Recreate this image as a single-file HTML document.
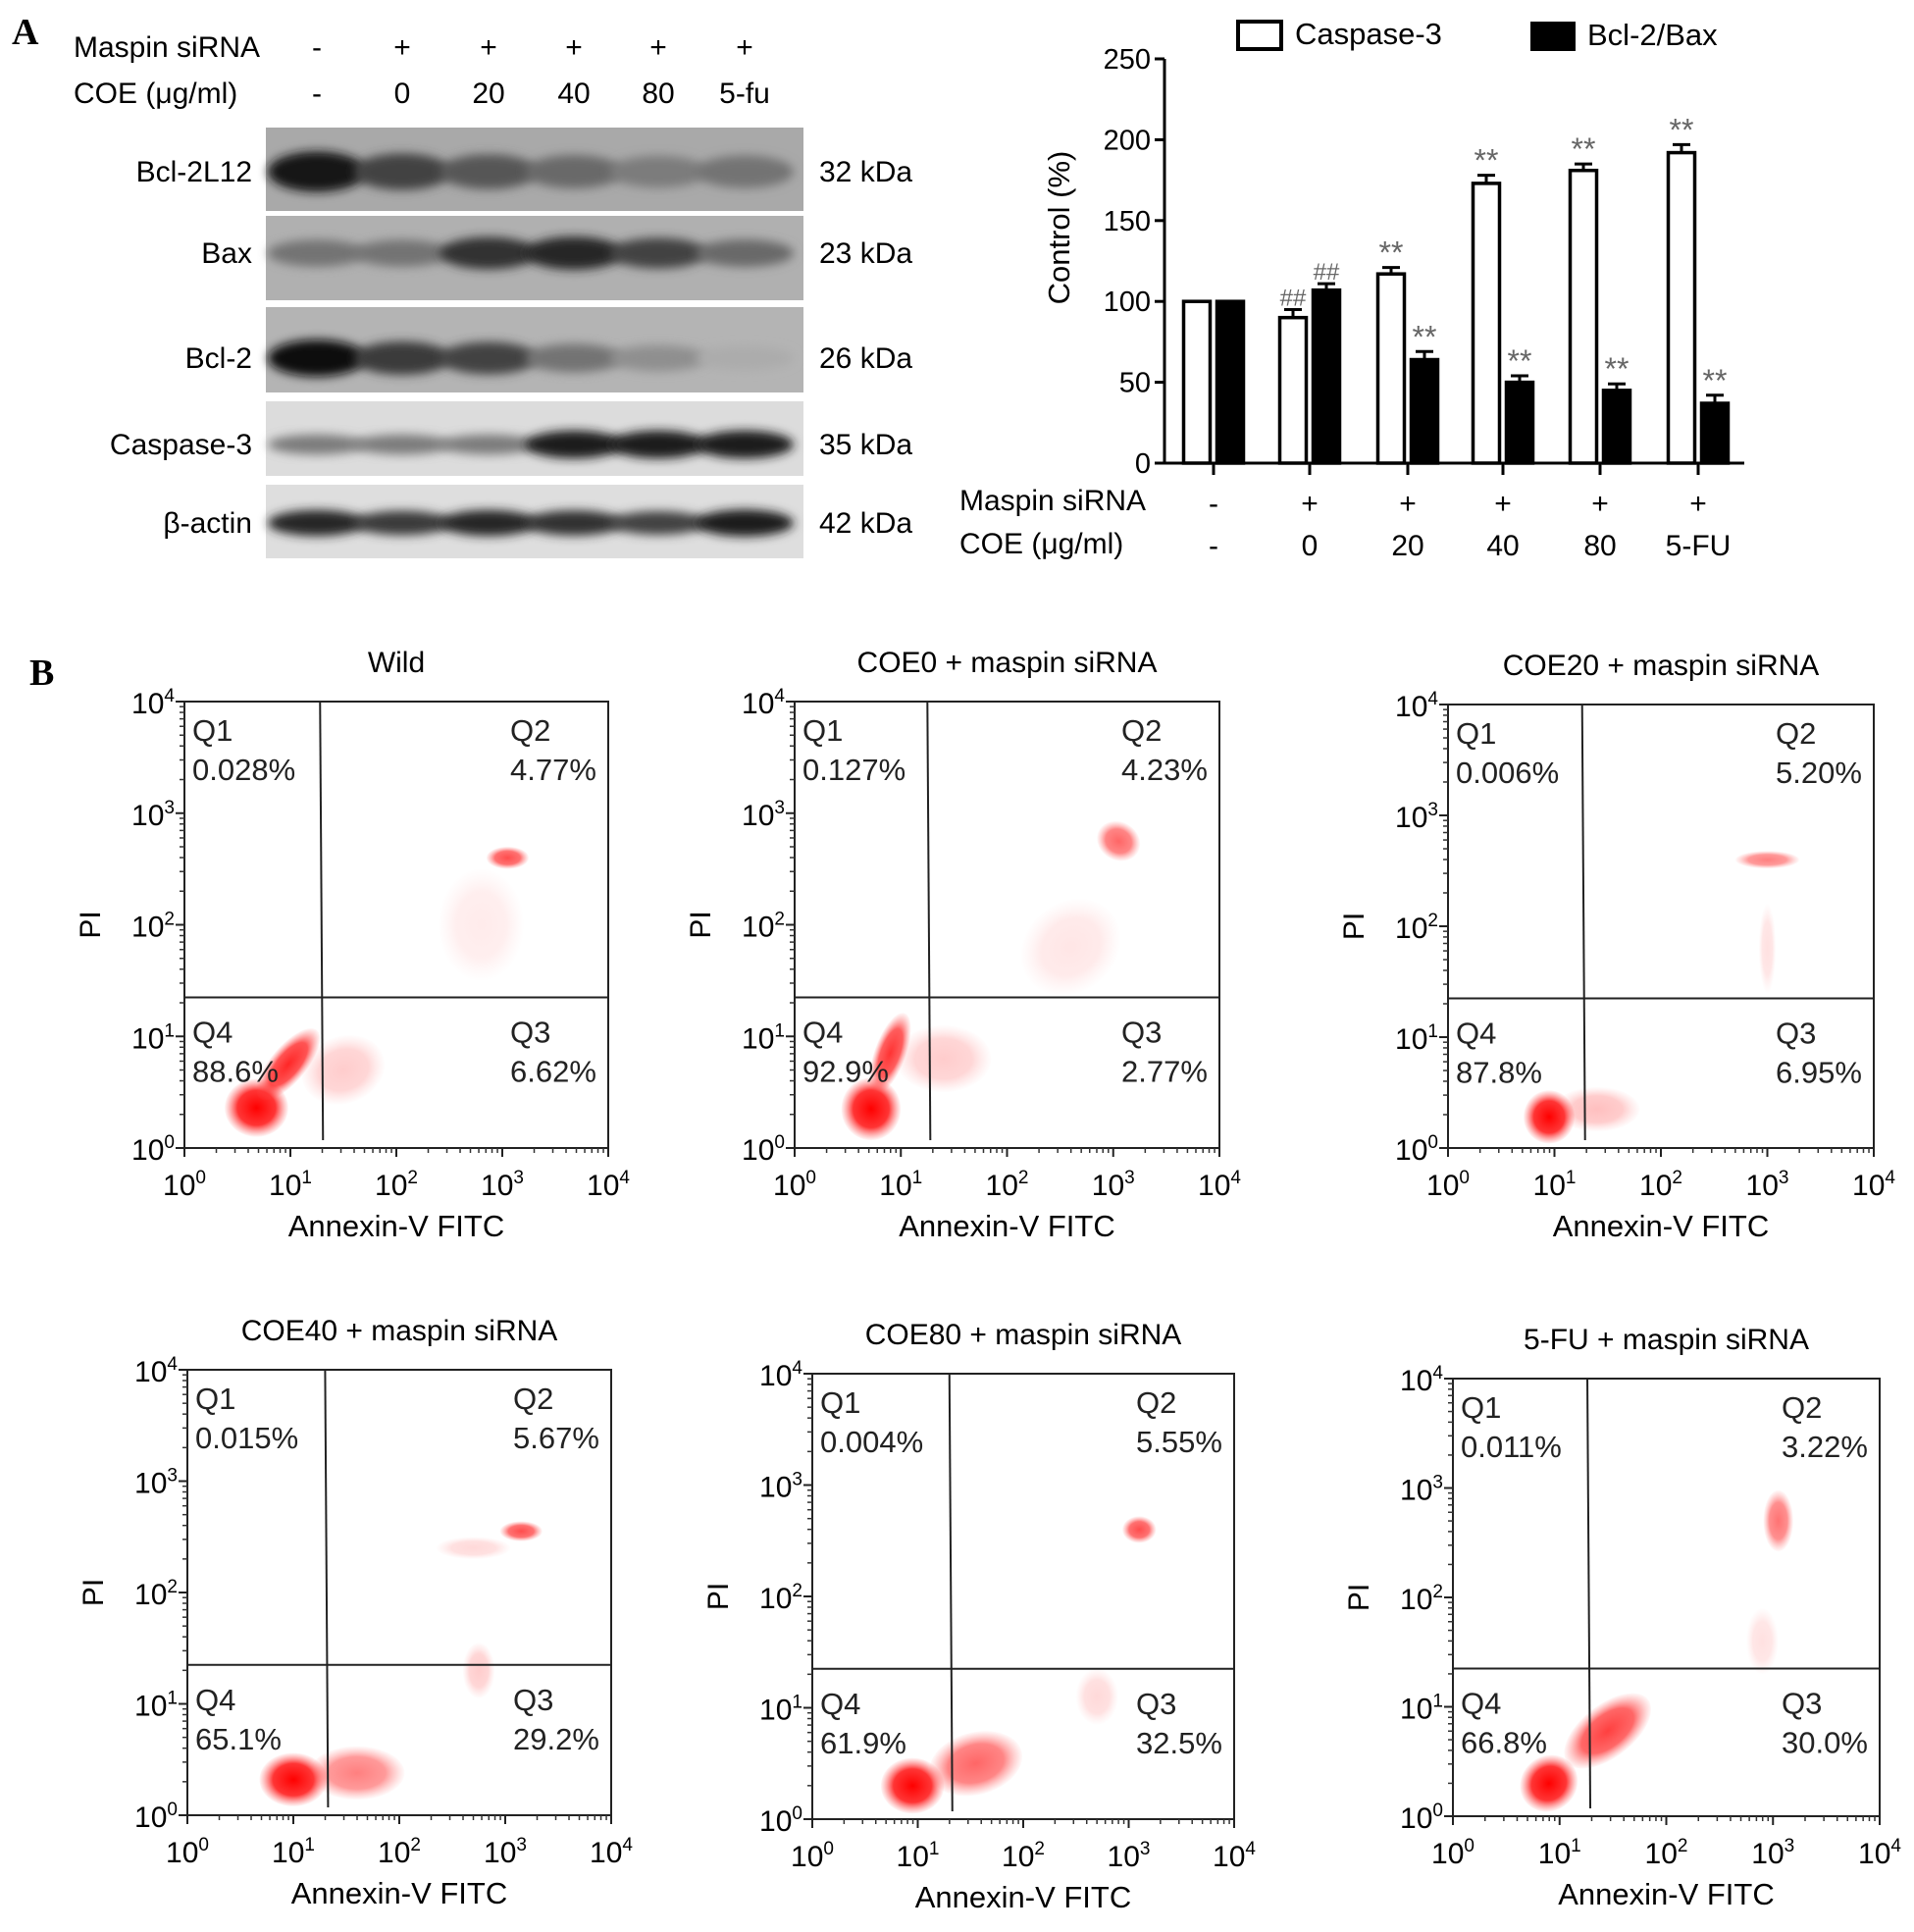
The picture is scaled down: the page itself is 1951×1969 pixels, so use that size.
<!DOCTYPE html>
<html><head><meta charset="utf-8"><style>
html,body{margin:0;padding:0;background:#fff;}
svg{display:block;font-family:"Liberation Sans",Arial,sans-serif;}
</style></head><body>
<svg id="fig" width="1951" height="1969" viewBox="0 0 1951 1969" xmlns="http://www.w3.org/2000/svg">
<defs>
<filter id="blur4" x="-50%" y="-50%" width="200%" height="200%"><feGaussianBlur stdDeviation="5"/></filter>
<radialGradient id="redblob"><stop offset="0" stop-color="#f00" stop-opacity="1"/><stop offset="0.6" stop-color="#f11" stop-opacity="0.85"/><stop offset="1" stop-color="#f55" stop-opacity="0.05"/></radialGradient>
</defs>
<g id="panelA"></g>
<g id="bars"></g>
<g id="flow"></g>
</svg>
<script>
const NS="http://www.w3.org/2000/svg";
function el(tag,attrs,parent,text){const e=document.createElementNS(NS,tag);for(const k in attrs)e.setAttribute(k,attrs[k]);if(text!==undefined)e.textContent=text;parent.appendChild(e);return e;}

// ---------- Western blot data ----------
const laneSiRNA=["-","+","+","+","+","+"];
const laneCOE=["-","0","20","40","80","5-fu"];
const proteins=["Bcl-2L12","Bax","Bcl-2","Caspase-3","β-actin"];
const kda=["32 kDa","23 kDa","26 kDa","35 kDa","42 kDa"];
const bandBcl2L12=[0.95,0.7,0.6,0.5,0.4,0.45];
const bandBax=[0.45,0.45,0.8,0.85,0.7,0.5];
const bandBcl2=[0.98,0.75,0.7,0.45,0.3,0.15];
const bandCasp=[0.4,0.4,0.4,0.9,0.9,0.9];
const bandActin=[0.85,0.75,0.85,0.8,0.7,0.9];

// ---------- Bar chart data ----------
const barSiRNA=["-","+","+","+","+","+"];
const barCOE=["-","0","20","40","80","5-FU"];
const caspase3=[100,90,117,173,181,192];
const caspase3Err=[0,5,4,5,4,5];
const bcl2bax=[100,107,64,50,45,37];
const bcl2baxErr=[0,4,5,4,4,5];
const sigCasp=["","##","**","**","**","**"];
const sigBcl=["","##","**","**","**","**"];
const yTicks=[0,50,100,150,200,250];

// ---------- Flow data ----------
const flowTitles=["Wild","COE0 + maspin siRNA","COE20 + maspin siRNA","COE40 + maspin siRNA","COE80 + maspin siRNA","5-FU + maspin siRNA"];
const q1Vals=["0.028%","0.127%","0.006%","0.015%","0.004%","0.011%"];
const q2Vals=["4.77%","4.23%","5.20%","5.67%","5.55%","3.22%"];
const q3Vals=["6.62%","2.77%","6.95%","29.2%","32.5%","30.0%"];
const q4Vals=["88.6%","92.9%","87.8%","65.1%","61.9%","66.8%"];
const gateX=[1.28,1.25,1.26,1.3,1.3,1.26];
const gateY=[1.35,1.35,1.35,1.35,1.35,1.35];
// clusters: [logX, logY, rxLog, ryLog, angleDeg, opacity]
const clusters=[
 [[0.68,0.36,0.3,0.26,0,1],[0.98,0.75,0.42,0.16,-50,0.85],[1.5,0.7,0.4,0.3,-20,0.2],[3.05,2.6,0.2,0.1,0,0.7],[2.8,2.0,0.4,0.5,0,0.08]],
 [[0.72,0.35,0.28,0.28,0,1],[0.9,0.85,0.4,0.14,-70,0.8],[1.4,0.8,0.45,0.3,0,0.2],[3.05,2.75,0.18,0.2,-60,0.6],[2.6,1.8,0.5,0.4,-40,0.1]],
 [[0.95,0.28,0.24,0.24,0,1],[1.4,0.35,0.4,0.2,0,0.25],[3.0,2.6,0.3,0.08,0,0.5],[3.0,1.8,0.08,0.4,0,0.12]],
 [[1.0,0.32,0.32,0.24,0,1],[1.6,0.38,0.45,0.24,0,0.5],[3.15,2.55,0.2,0.09,0,0.7],[2.7,2.4,0.35,0.1,0,0.15],[2.75,1.3,0.15,0.25,0,0.2]],
 [[0.95,0.3,0.3,0.25,0,1],[1.55,0.5,0.45,0.28,-15,0.6],[3.1,2.6,0.16,0.12,0,0.7],[2.7,1.1,0.2,0.25,0,0.15]],
 [[0.9,0.3,0.28,0.25,-40,1],[1.45,0.78,0.48,0.24,-38,0.75],[3.05,2.7,0.14,0.28,0,0.55],[2.9,1.6,0.15,0.3,0,0.12]]
];
const flowBoxes=[[188,715,620,1170],[810,715,1243,1170],[1476,718,1910,1170],[191,1396,623,1850],[828,1400,1258,1854],[1481,1405,1916,1851]];

// ===== Panel A: blot =====
const A=document.getElementById('panelA');
let t=el('text',{x:12,y:45,'font-family':'Liberation Serif','font-weight':'bold','font-size':38},A,'A');

const laneX=[323,410,498,585,671,759];
const bx0=271,bx1=819;
t=el('text',{x:75,y:58,'font-size':30},A,'Maspin siRNA');
t=el('text',{x:75,y:105,'font-size':30},A,'COE (μg/ml)');
laneSiRNA.forEach((s,i)=>{const e=el('text',{x:laneX[i],y:58,'font-size':30,'text-anchor':'middle'},A,s);});
laneCOE.forEach((s,i)=>{const e=el('text',{x:laneX[i],y:105,'font-size':30,'text-anchor':'middle'},A,s);});
const strips=[[130,215,175,'#a9a9a9',bandBcl2L12,26],[220,306,258,'#b0b0b0',bandBax,20],[313,400,365,'#b4b4b4',bandBcl2,22],[409,485,453,'#dcdcdc',bandCasp,14],[494,569,533,'#dedede',bandActin,13]];
strips.forEach((s,k)=>{
 const g=el('g',{},A);
 el('rect',{x:bx0,y:s[0],width:bx1-bx0,height:s[1]-s[0],fill:s[3]},g);
 s[4].forEach((v,i)=>{const c=Math.round(200-190*v);const b=el('ellipse',{cx:laneX[i],cy:s[2],rx:50,ry:s[5]/2+v*8,fill:`rgb(${c},${c},${c})`,filter:'url(#blur4)'},g);});
 const lb=el('text',{x:257,y:s[2]+10,'font-size':30,'text-anchor':'end'},A,proteins[k]);
 const kd=el('text',{x:835,y:s[2]+10,'font-size':30},A,kda[k]);
});

// ===== Bar chart =====
const B=document.getElementById('bars');
const y0=472,y250=60,axX=1187,axEnd=1778;
const yS=v=>y0-(v/250)*(y0-y250);
const gX=[1237,1335,1435,1532,1631,1731];
const bw=27,off=17;
let ax=el('line',{x1:axX,y1:y250,x2:axX,y2:y0,stroke:'#000','stroke-width':3},B);
ax=el('line',{x1:axX,y1:y0,x2:axEnd,y2:y0,stroke:'#000','stroke-width':3},B);
yTicks.forEach(v=>{el('line',{x1:axX-10,y1:yS(v),x2:axX,y2:yS(v),stroke:'#000','stroke-width':3},B);const e=el('text',{x:axX-14,y:yS(v)+10,'font-size':29,'text-anchor':'end'},B,String(v));});
t=el('text',{x:0,y:0,'font-size':31,'text-anchor':'middle',transform:`translate(1090,232) rotate(-90)`},B,'Control (%)');
gX.forEach((x,i)=>{
 el('line',{x1:x,y1:y0,x2:x,y2:y0+12,stroke:'#000','stroke-width':3},B);
 const cx=x-off, bxv=x+off;
 const r1=el('rect',{x:cx-bw/2,y:yS(caspase3[i]),width:bw,height:y0-yS(caspase3[i]),fill:'#fff',stroke:'#000','stroke-width':3.5},B);
 const r2=el('rect',{x:bxv-bw/2,y:yS(bcl2bax[i]),width:bw,height:y0-yS(bcl2bax[i]),fill:'#000',stroke:'#000','stroke-width':3.5},B);
 if(caspase3Err[i]>0){const ye=yS(caspase3[i]+caspase3Err[i]);el('line',{x1:cx,y1:yS(caspase3[i]),x2:cx,y2:ye,stroke:'#000','stroke-width':3},B);el('line',{x1:cx-9,y1:ye,x2:cx+9,y2:ye,stroke:'#000','stroke-width':3},B);}
 if(bcl2baxErr[i]>0){const ye=yS(bcl2bax[i]+bcl2baxErr[i]);el('line',{x1:bxv,y1:yS(bcl2bax[i]),x2:bxv,y2:ye,stroke:'#000','stroke-width':3},B);el('line',{x1:bxv-9,y1:ye,x2:bxv+9,y2:ye,stroke:'#000','stroke-width':3},B);}
 if(sigCasp[i]){const e=el('text',{x:cx,y:yS(caspase3[i]+caspase3Err[i])-4,'font-size':sigCasp[i]=='##'?24:32,fill:'#666','text-anchor':'middle'},B,sigCasp[i]);}
 if(sigBcl[i]){const e=el('text',{x:bxv,y:yS(bcl2bax[i]+bcl2baxErr[i])-4,'font-size':sigBcl[i]=='##'?24:32,fill:'#666','text-anchor':'middle'},B,sigBcl[i]);}
 let e=el('text',{x:x,y:523,'font-size':30,'text-anchor':'middle'},B,barSiRNA[i]);
 e=el('text',{x:x,y:566,'font-size':30,'text-anchor':'middle'},B,barCOE[i]);
});
t=el('text',{x:978,y:520,'font-size':30},B,'Maspin siRNA');
t=el('text',{x:978,y:564,'font-size':30},B,'COE (μg/ml)');
let lg=el('g',{},B);
el('rect',{x:1262,y:22,width:44,height:28,fill:'#fff',stroke:'#000','stroke-width':4},lg);
el('text',{x:1320,y:45,'font-size':31},lg,'Caspase-3');
lg=el('g',{},B);
el('rect',{x:1560,y:22,width:46,height:30,fill:'#000'},lg);
el('text',{x:1618,y:46,'font-size':31},lg,'Bcl-2/Bax');

// ===== Panel B: flow =====
const F=document.getElementById('flow');
t=el('text',{x:30,y:698,'font-family':'Liberation Serif','font-weight':'bold','font-size':38},F,'B');

flowBoxes.forEach((bb,p)=>{
 const [L,T,R,Bt]=bb;const W=R-L,H=Bt-T;
 const xS=v=>L+v/4*W, yF=v=>Bt-v/4*H;
 const g=el('g',{},F);
 const cg=el('g',{},g);
 clusters[p].forEach(c=>{const e=el('ellipse',{cx:xS(c[0]),cy:yF(c[1]),rx:c[2]/4*W,ry:c[3]/4*H,fill:'url(#redblob)',opacity:c[5],transform:`rotate(${c[4]} ${xS(c[0])} ${yF(c[1])})`},cg);});
 el('rect',{x:L,y:T,width:W,height:H,fill:'none',stroke:'#222','stroke-width':2},g);
 let e=el('line',{x1:xS(gateX[p]),y1:T,x2:xS(gateX[p])+3,y2:Bt-8,stroke:'#222','stroke-width':2},g);
 e=el('line',{x1:L,y1:yF(gateY[p]),x2:R,y2:yF(gateY[p]),stroke:'#222','stroke-width':2},g);
 for(let d=0;d<=4;d++){
  el('line',{x1:xS(d),y1:Bt,x2:xS(d),y2:Bt+9,stroke:'#222','stroke-width':2},g);
  el('line',{x1:L-9,y1:yF(d),x2:L,y2:yF(d),stroke:'#222','stroke-width':2},g);
  if(d<4)for(let m=2;m<10;m++){const lv=d+Math.log10(m);el('line',{x1:xS(lv),y1:Bt,x2:xS(lv),y2:Bt+5,stroke:'#333','stroke-width':1.5},g);el('line',{x1:L-5,y1:yF(lv),x2:L,y2:yF(lv),stroke:'#333','stroke-width':1.5},g);}
  let tx=el('text',{x:xS(d),y:Bt+48,'font-size':30,'text-anchor':'middle'},g);
  el('tspan',{},tx,'10');el('tspan',{dy:-12,'font-size':19},tx,String(d));
  let ty=el('text',{x:L-10,y:yF(d)+12,'font-size':30,'text-anchor':'end'},g);
  el('tspan',{},ty,'10');el('tspan',{dy:-12,'font-size':19},ty,String(d));
 }
 e=el('text',{x:(L+R)/2,y:Bt+90,'font-size':31,'text-anchor':'middle'},g,'Annexin-V FITC');
 e=el('text',{x:0,y:0,'font-size':30,'text-anchor':'middle',transform:`translate(${L-86},${(T+Bt)/2}) rotate(-90)`},g,'PI');
 e=el('text',{x:(L+R)/2,y:T-30,'font-size':30,'text-anchor':'middle'},g,flowTitles[p]);
 const qy1=T+40,qy2=T+80,qy3=yF(gateY[p])+46,qy4=yF(gateY[p])+86;
 const lx=L+8,rx=R-100;
 [[lx,qy1,'Q1'],[lx,qy2,q1Vals[p]],[rx,qy1,'Q2'],[rx,qy2,q2Vals[p]],[lx,qy3,'Q4'],[lx,qy4,q4Vals[p]],[rx,qy3,'Q3'],[rx,qy4,q3Vals[p]]].forEach(q=>{const e2=el('text',{x:q[0],y:q[1],'font-size':31,fill:'#222'},g,q[2]);});
});
</script>
</body></html>
